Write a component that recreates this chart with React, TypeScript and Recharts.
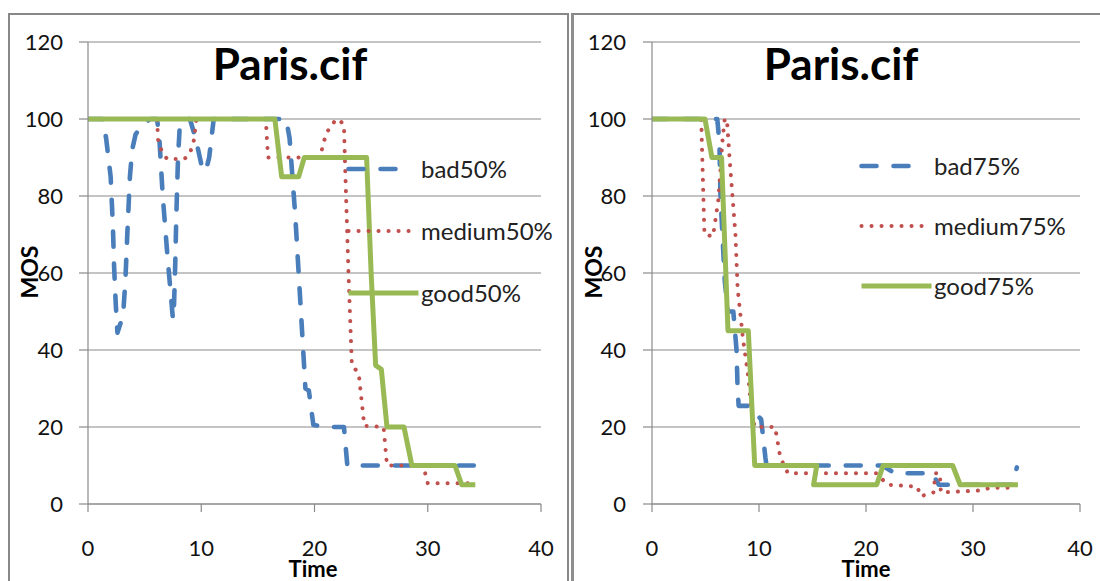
import React from 'react';
import { LineChart, Line, XAxis, YAxis, CartesianGrid, Legend } from 'recharts';

// ---------- axis ticks & labels ----------
const xTicks = [0, 10, 20, 30, 40];
const yTicks = [0, 20, 40, 60, 80, 100, 120];
const titleText = 'Paris.cif';
const xTitle = 'Time';
const yTitle = 'MOS';

// ---------- left panel (50%) : [time, MOS] ----------
const bad50: number[][] = [
  [0, 100], [1.3, 100], [1.6, 95], [2.0, 85], [2.2, 72], [2.3, 62], [2.45, 52], [2.6, 44.5],
  [3.1, 49], [3.3, 58], [3.5, 72], [3.7, 85], [3.9, 92], [4.2, 96], [4.8, 98.5], [5.5, 100],
  [6.1, 100], [6.3, 95], [6.6, 80], [7.0, 65], [7.5, 48], [7.6, 52], [7.7, 62], [7.8, 75],
  [7.95, 90], [8.1, 98], [8.5, 100], [9.0, 100], [9.5, 95], [10.1, 87], [10.4, 86.5],
  [10.7, 90], [11.1, 100], [17.5, 100], [17.8, 95], [18.3, 75], [18.8, 50], [19.2, 30],
  [19.5, 29.5], [19.9, 20.5], [21.2, 20], [22.6, 20], [22.9, 10], [34.1, 10],
];
const medium50: number[][] = [
  [0, 100], [6.1, 100], [6.2, 94], [6.6, 91], [7.0, 89.6], [8.5, 89.6], [9.0, 91], [9.4, 95],
  [9.5, 99], [9.6, 100], [15.7, 100], [15.9, 90], [20.5, 90], [20.8, 94], [21.2, 97],
  [21.8, 99.5], [22.1, 100], [22.6, 98.5], [22.7, 88], [23.0, 60], [23.2, 44], [23.3, 36],
  [23.9, 34], [24.4, 20.3], [26.1, 20], [26.4, 10], [29.6, 10], [30.0, 5.4], [33.8, 5.4],
];
const good50: number[][] = [
  [0, 100], [16.5, 100], [17.1, 85], [18.6, 85], [19.1, 90], [24.6, 90], [25.0, 60],
  [25.4, 36], [25.9, 35], [26.4, 20], [27.9, 20], [28.6, 10], [32.4, 10], [33.0, 5], [34.2, 5],
];

// ---------- right panel (75%) ----------
const bad75: number[][] = [
  [0, 100], [6.1, 100], [6.3, 94], [6.4, 80], [6.8, 58], [7.1, 50], [7.6, 50], [7.9, 40],
  [8.0, 30], [8.1, 25.5], [9.0, 25.5], [10.2, 22], [10.6, 12], [10.7, 10], [21.5, 10],
  [22.7, 8], [26.2, 8], [26.8, 5], [33.7, 5], [34.1, 9.5],
];
const medium75: number[][] = [
  [0, 100], [4.6, 100], [4.9, 70], [5.7, 69.5], [6.2, 79], [6.6, 95], [6.8, 100], [7.0, 100],
  [7.3, 88], [7.8, 70], [8.0, 56], [8.5, 43], [9.0, 33], [9.3, 24], [9.6, 20], [11.5, 20],
  [12.0, 12], [12.7, 8], [21.0, 8], [22.0, 5], [24.8, 4.5], [25.1, 2], [26.3, 3], [26.5, 8],
  [26.9, 8], [27.0, 3], [30.6, 3.5], [31.6, 4.2], [33.5, 4.2],
];
const good75: number[][] = [
  [0, 100], [4.95, 100], [5.6, 90], [6.5, 90], [7.1, 45], [9.0, 45], [9.6, 10], [15.4, 10],
  [15.1, 5], [21.0, 5], [21.6, 10], [28.1, 10], [28.8, 5], [34.2, 5],
];

const toPts = (arr: number[][]) => arr.map(([x, y]) => ({ x, y }));

const BLUE = '#4A7EBB';
const RED = '#C0504D';
const GREEN = '#98B954';
const GRID = '#8a8a8a';
const FONT = "Lato, 'Open Sans', sans-serif";

type Style = 'bad' | 'medium' | 'good';
type Series = { name: string; kind: Style; data: number[][] };

const styleOf = (k: Style) => {
  if (k === 'bad') return { stroke: BLUE, strokeWidth: 4.6, strokeDasharray: '15 17', strokeLinecap: 'round' as const, sample: 54 };
  if (k === 'medium') return { stroke: RED, strokeWidth: 4, strokeDasharray: '0.1 9.9', strokeLinecap: 'round' as const, sample: 64 };
  return { stroke: GREEN, strokeWidth: 5, strokeDasharray: undefined, strokeLinecap: 'butt' as const, sample: 70 };
};

const LegendBox = ({ series, rowH }: { series: Series[]; rowH: number }) => (
  <div style={{ fontFamily: FONT, fontSize: 24, color: '#222' }}>
    {series.map((s) => {
      const st = styleOf(s.kind);
      return (
        <div key={s.name} style={{ display: 'flex', alignItems: 'center', height: rowH }}>
          <svg width={75} height={12} style={{ display: 'block', flex: '0 0 auto' }}>
            <line x1={2.5} y1={6} x2={2.5 + st.sample} y2={6} stroke={st.stroke} strokeWidth={st.strokeWidth}
              strokeDasharray={st.strokeDasharray} strokeLinecap={st.strokeLinecap} />
          </svg>
          <span style={{ lineHeight: 1, whiteSpace: 'nowrap' }}>{s.name}</span>
        </div>
      );
    })}
  </div>
);

type PanelProps = {
  left: number; width: number; yAxisWidth: number; rightMargin: number; yTickMargin: number;
  series: Series[]; legendLeft: number; legendTop: number; rowH: number;
};

const Panel = (p: PanelProps) => (
  <div style={{ position: 'absolute', left: p.left, top: 0, width: p.width, height: 581 }}>
    <LineChart width={p.width} height={581} margin={{ top: 42, right: p.rightMargin, bottom: 0, left: 0 }}>
      <CartesianGrid vertical={false} stroke={GRID} strokeWidth={1.2} />
      <XAxis type="number" dataKey="x" domain={[0, 40]} ticks={xTicks} interval={0} height={77}
        tickSize={8} tickMargin={28} stroke={GRID} strokeWidth={1.2} allowDataOverflow
        tick={{ fill: '#111', fontSize: 22, fontFamily: FONT }} />
      <YAxis type="number" domain={[0, 120]} ticks={yTicks} interval={0} width={p.yAxisWidth}
        tickSize={9} tickMargin={p.yTickMargin} stroke={GRID} strokeWidth={1.2}
        tick={{ fill: '#111', fontSize: 22, fontFamily: FONT }} />
      {p.series.map((s) => {
        const st = styleOf(s.kind);
        return (
          <Line key={s.name} name={s.name} data={toPts(s.data)} dataKey="y" type="linear"
            stroke={st.stroke} strokeWidth={st.strokeWidth} strokeDasharray={st.strokeDasharray}
            strokeLinecap={st.strokeLinecap} strokeLinejoin="round"
            dot={false} activeDot={false} isAnimationActive={false} />
        );
      })}
      <Legend layout="vertical" align="center" verticalAlign="middle"
        wrapperStyle={{ left: p.legendLeft, top: p.legendTop, width: 240, height: 'auto' }}
        content={() => <LegendBox series={p.series} rowH={p.rowH} />} />
    </LineChart>
  </div>
);

const leftSeries: Series[] = [
  { name: 'bad50%', kind: 'bad', data: bad50 },
  { name: 'medium50%', kind: 'medium', data: medium50 },
  { name: 'good50%', kind: 'good', data: good50 },
];
const rightSeries: Series[] = [
  { name: 'bad75%', kind: 'bad', data: bad75 },
  { name: 'medium75%', kind: 'medium', data: medium75 },
  { name: 'good75%', kind: 'good', data: good75 },
];

export default function App() {
  return (
    <div style={{ position: 'absolute', left: 0, top: 0, width: 1100, height: 581, overflow: 'hidden', background: '#fff' }}>
      <div style={{ position: 'absolute', left: 8, top: 13, width: 561, height: 620, border: '2px solid #888', boxSizing: 'border-box' }} />
      <div style={{ position: 'absolute', left: 571, top: 13, width: 600, height: 620, border: '2px solid #888', borderLeft: '3px solid #8e8e8e', boxSizing: 'border-box' }} />
      <Panel left={0} width={570} yAxisWidth={88} rightMargin={29} yTickMargin={16}
        series={leftSeries} legendLeft={346} legendTop={138} rowH={62} />
      <Panel left={560} width={540} yAxisWidth={92} rightMargin={20} yTickMargin={17}
        series={rightSeries} legendLeft={299} legendTop={136} rowH={60} />
      <svg width={1100} height={581} style={{ position: 'absolute', left: 0, top: 0, pointerEvents: 'none' }}>
        <g fontFamily={FONT} fontWeight="bold" fill="#000">
          <text x={290} y={80} fontSize={44} textAnchor="middle">{titleText}</text>
          <text x={841} y={80} fontSize={44} textAnchor="middle">{titleText}</text>
          <text x={313} y={577} fontSize={22} textAnchor="middle">{xTitle}</text>
          <text x={866} y={577} fontSize={22} textAnchor="middle">{xTitle}</text>
          <text x={29} y={272} fontSize={23} textAnchor="middle" dominantBaseline="central" transform="rotate(-90 29 272)">{yTitle}</text>
          <text x={593} y={272} fontSize={23} textAnchor="middle" dominantBaseline="central" transform="rotate(-90 593 272)">{yTitle}</text>
        </g>
      </svg>
    </div>
  );
}
